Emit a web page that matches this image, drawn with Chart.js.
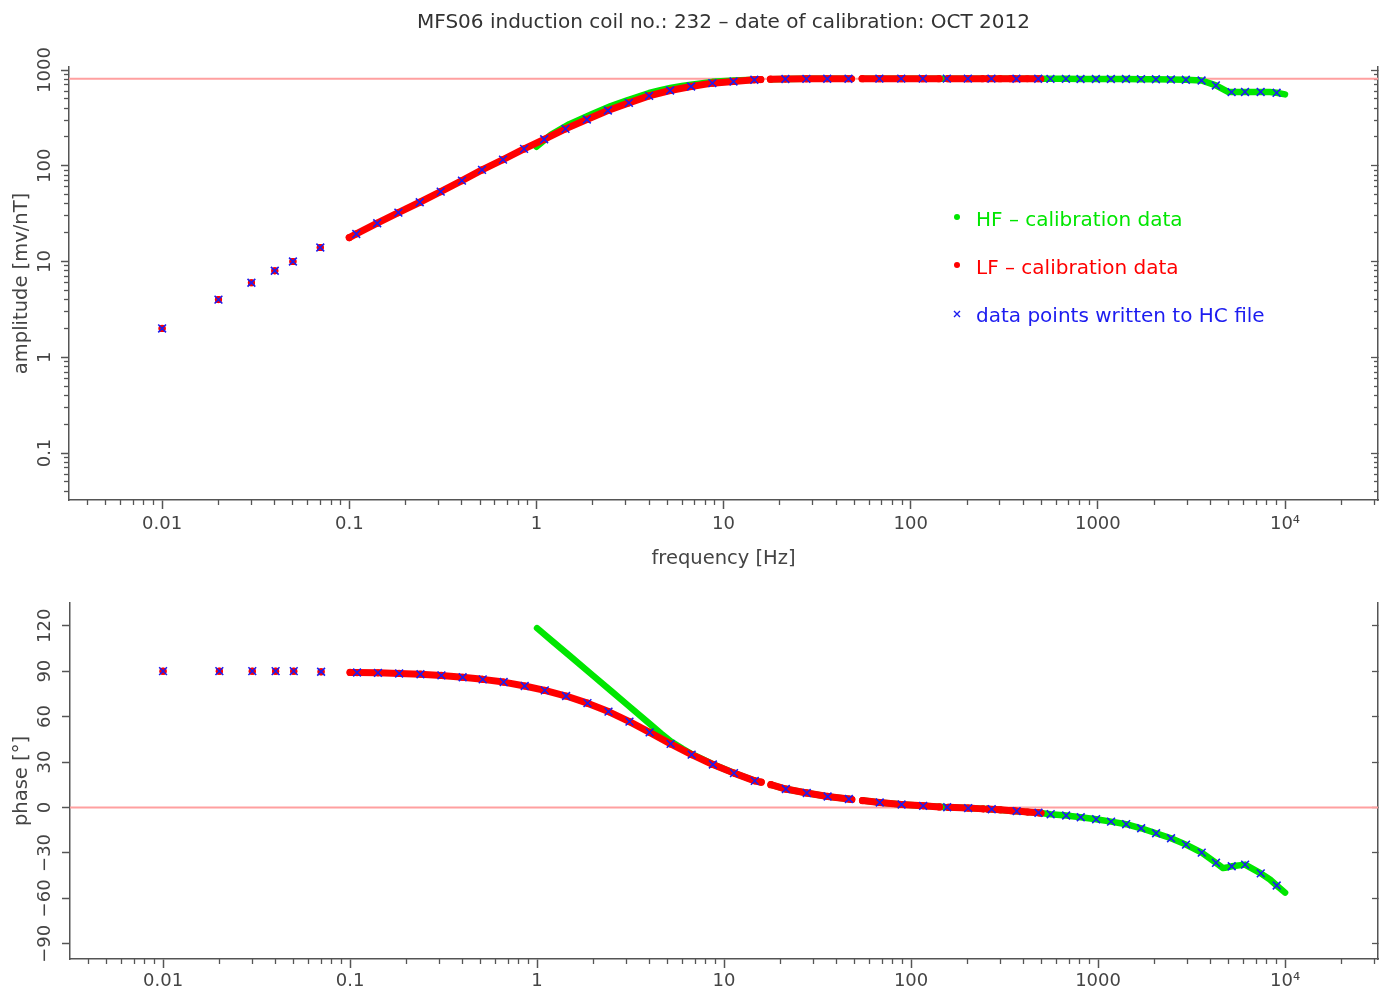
<!DOCTYPE html>
<html>
<head>
<meta charset="utf-8">
<title>MFS06 coil 232 calibration</title>
<script src="https://cdn.jsdelivr.net/npm/chart.js@4.4.1/dist/chart.umd.min.js"></script>
<style>
  body { margin: 0; background: #fff; }
  .panel { position: absolute; left: 0; width: 1380px; }
  #ampPanel { top: 0; height: 578px; }
  #phasePanel { top: 578px; height: 414px; }
</style>
</head>
<body>
<div class="panel" id="ampPanel"><canvas id="ampChart"></canvas></div>
<div class="panel" id="phasePanel"><canvas id="phaseChart"></canvas></div>
<script>
const titleText = 'MFS06 induction coil no.: 232 \u2013 date of calibration: OCT 2012'

// LF calibration data (red), null = gap in the measurement
const lfFreq = [0.01, 0.015, 0.02, 0.025, 0.03, 0.035, 0.04, 0.045, 0.05, 0.06, 0.07, 0.085,
  0.1, 0.109, 0.141, 0.183, 0.238, 0.308, 0.4, 0.512, 0.663, 0.859, 1.1, 1.43, 1.86, 2.41, 3.12, 4.0, 5.18, 6.71, 8.71, 11.3, 14.6, 15.8,
  16.8, 17.8, 21.4, 27.7, 35.8, 46.5, 48.2,
  51.5, 55, 68, 89, 116, 142, 150, 158, 202, 243, 250, 257, 300, 343, 350, 357, 420, 480, 495]
const lfAmp = [2, null, 4, null, 6, null, 8, null, 10, null, 14, null,
  17.8, 19.4, 25.1, 32.4, 41.6, 53.7, 70, 90.5, 116, 150, 189, 243, 304, 378, 454, 537, 611, 673, 729, 759, 790, 795,
  null, 802, 805, 808, 810, 810, 810,
  null, 811, 812, 812, 812, 812, null, 812, 812, 812, null, 812, 811, 811, null, 811, 810, 810, 810]
const lfPhase = [90, null, 90, null, 90, null, 90, null, 90, null, 89.6, null,
  89.2, 89.1, 88.9, 88.5, 88.0, 87.2, 86.0, 84.6, 82.8, 80.2, 77.3, 73.6, 68.9, 63.3, 56.7, 49.6, 42.0, 34.9, 28.4, 22.7, 17.6, 16.7,
  null, 15.1, 12.2, 9.6, 7.3, 5.6, 5.3,
  null, 4.6, 3.3, 2.0, 1.1, 0.4, null, 0.1, -0.4, -0.9, null, -1.0, -1.5, -2.1, null, -2.2, -3.0, -3.5, -3.7]

// HF calibration data (green)
const hfFreq = [1.0, 1.2, 1.5, 2.0, 2.5, 3.0, 4.0, 4.6, 5.2, 6.0, 6.7, 8.71, 11.3, 14.6, 15.8,
  16.8, 17.8, 21.4, 27.7, 35.8, 46.5, 48.2,
  51.5, 55, 68, 89, 116, 156, 202, 270, 367, 480,
  558, 675, 808, 976, 1174, 1413, 1700, 2043, 2456, 2953,
  3583, 4272, 4660, 4960, 5185, 6113, 7413, 8300, 9020, 10000]
const hfAmp = [158, 212, 272, 350, 420, 476, 575, 615, 648, 680, 703, 752, 775, 793, 797,
  null, 802, 805, 808, 810, 810, 810,
  null, 811, 812, 812, 812, 812, 812, 812, 810, 810,
  808, 808, 806, 806, 805, 805, 803, 800, 795, 790,
  777, 690, 630, 592, 588, 590, 590, 588, 578, 556]
const hfPhase = [118.4, 110.1, 100.0, 86.9, 76.7, 68.4, 55.3, 48.9, 43.6, 38.8, 35.3, 28.6, 22.8, 17.7, 16.8,
  null, 15.1, 12.2, 9.6, 7.3, 5.6, 5.3,
  null, 4.6, 3.3, 2.0, 1.1, 0.2, -0.4, -1.1, -2.4, -3.5,
  -4.4, -5.3, -6.4, -7.7, -9.3, -11.0, -13.7, -17.0, -20.3, -24.5,
  -29.8, -36.5, -40.0, -39.4, -38.8, -37.7, -43.5, -47.5, -51.5, -56.2]

// points written to the HC file (blue x)
const hcFreq = [0.01, 0.02, 0.03, 0.04, 0.05, 0.07,
  0.109, 0.141, 0.183, 0.238, 0.308, 0.4, 0.512, 0.663, 0.859, 1.1, 1.43, 1.86, 2.41, 3.12, 4.0, 5.18, 6.71, 8.71, 11.3, 14.6,
  21.4, 27.7, 35.8, 46.5,
  68, 89, 116, 156, 202, 270, 367, 480,
  558, 675, 808, 976, 1174, 1413, 1700, 2043, 2456, 2953,
  3583, 4272, 5185, 6113, 7413, 9020]
const hcAmp = [2, 4, 6, 8, 10, 14,
  19.4, 25.1, 32.4, 41.6, 53.7, 70, 90.5, 116, 150, 189, 243, 304, 378, 454, 537, 611, 673, 729, 759, 790,
  805, 808, 810, 810,
  812, 812, 812, 812, 812, 812, 810, 810,
  808, 808, 806, 806, 805, 805, 803, 800, 795, 790,
  777, 690, 588, 590, 590, 578]
const hcPhase = [90, 90, 90, 90, 90, 89.6,
  89.1, 88.9, 88.5, 88.0, 87.2, 86.0, 84.6, 82.8, 80.2, 77.3, 73.6, 68.9, 63.3, 56.7, 49.6, 42.0, 34.9, 28.4, 22.7, 17.6,
  12.2, 9.6, 7.3, 5.6,
  3.3, 2.0, 1.1, 0.2, -0.4, -1.1, -2.4, -3.5,
  -4.4, -5.3, -6.4, -7.7, -9.3, -11.0, -13.7, -17.0, -20.3, -24.5,
  -29.8, -36.5, -38.8, -37.7, -43.5, -51.5]

// reference lines
const ampReference = 810
const phaseReference = 0

// axes
const freqMin = 0.00318
const freqMax = 31400
const ampMin = 0.0323
const ampMax = 1075
const phaseMin = -100
const phaseMax = 135
const freqTicks = [0.01, 0.1, 1, 10, 100, 1000, 10000]
const freqTickLabels = ['0.01', '0.1', '1', '10', '100', '1000', '10\u2074']
const ampTicks = [0.1, 1, 10, 100, 1000]
const ampTickLabels = ['0.1', '1', '10', '100', '1000']
const phaseTicks = [-90, -60, -30, 0, 30, 60, 90, 120]
const phaseTickLabels = ['\u221290', '\u221260', '\u221230', '0', '30', '60', '90', '120']

const green = '#00e600'
const red = '#ff0000'
const blue = '#1c1cf0'
const refColor = '#ffa0a0'
const axisColor = '#555'
const textColor = '#444'
const fontFamily = "'DejaVu Sans', sans-serif"

function pts (xs, ys) {
  return xs.map(function (x, i) { return {x: x, y: ys[i]} })
}

function logMinorTicks (min, max) {
  let ticks = []
  for (let e = Math.floor(Math.log10(min)); e <= Math.ceil(Math.log10(max)); e++) {
    for (let m = 2; m <= 9; m++) {
      let v = m * Math.pow(10, e)
      if (v >= min && v <= max) ticks.push({value: v})
    }
  }
  return ticks
}

function fixedTicks (values) {
  return function (scale) {
    scale.ticks = values.map(function (v) { return {value: v} })
  }
}

// fix the box size of an axis and drop the label overhang padding
function fixedSize (prop, size) {
  return function (scale) {
    scale[prop] = size
    scale.paddingLeft = 0
    scale.paddingRight = 0
    scale.paddingTop = 0
    scale.paddingBottom = 0
  }
}

// an axis that only draws tick marks (minor ticks or the right-hand frame)
function tickOnlyAxis (type, position, weight, min, max, ticksFn, tickLength, size, border) {
  return {
    type: type,
    position: position,
    weight: weight,
    min: min,
    max: max,
    afterBuildTicks: ticksFn,
    afterFit: fixedSize(position === 'bottom' ? 'height' : 'width', size),
    ticks: {display: false},
    grid: {drawOnChartArea: false, tickLength: tickLength, tickWidth: 1.3, color: axisColor},
    border: {display: border, color: axisColor, width: 1.5}
  }
}

function dataSets (lfY, hfY, hcY, refY) {
  return [
    {
      label: 'data points written to HC file',
      data: pts(hcFreq, hcY),
      showLine: false,
      pointStyle: 'crossRot',
      pointRadius: 5.5,
      pointBorderWidth: 1.6,
      pointBorderColor: blue,
      pointBackgroundColor: blue,
      order: 1
    },
    {
      label: 'LF \u2013 calibration data',
      data: pts(lfFreq, lfY),
      borderColor: red,
      backgroundColor: red,
      borderWidth: 7,
      borderCapStyle: 'round',
      borderJoinStyle: 'round',
      pointRadius: 3.6,
      pointBorderWidth: 0,
      pointBackgroundColor: red,
      spanGaps: false,
      order: 2
    },
    {
      label: 'HF \u2013 calibration data',
      data: pts(hfFreq, hfY),
      borderColor: green,
      backgroundColor: green,
      borderWidth: 6.5,
      borderCapStyle: 'round',
      borderJoinStyle: 'round',
      pointRadius: 0,
      spanGaps: false,
      order: 3
    },
    {
      label: 'reference',
      data: pts([freqMin, freqMax], [refY, refY]),
      borderColor: refColor,
      borderWidth: 2,
      pointRadius: 0,
      order: 4
    }
  ]
}

// legend drawn inside the amplitude panel, entries: HF, LF, HC
const legendPlugin = {
  id: 'coilLegend',
  afterDraw: function (chart) {
    let ctx = chart.ctx
    let sets = chart.data.datasets
    let items = [
      {label: sets[2].label, color: green, style: 'dot'},
      {label: sets[1].label, color: red, style: 'dot'},
      {label: sets[0].label, color: blue, style: 'cross'}
    ]
    ctx.save()
    ctx.font = '20px ' + fontFamily
    ctx.textBaseline = 'middle'
    ctx.textAlign = 'left'
    items.forEach(function (item, i) {
      let y = 220 + i * 48
      ctx.fillStyle = item.color
      ctx.strokeStyle = item.color
      if (item.style === 'dot') {
        ctx.beginPath()
        ctx.arc(957, y - 3, 3, 0, Math.PI * 2)
        ctx.fill()
      } else {
        ctx.lineWidth = 1.4
        ctx.beginPath()
        ctx.moveTo(954, y - 5)
        ctx.lineTo(960, y + 1)
        ctx.moveTo(960, y - 5)
        ctx.lineTo(954, y + 1)
        ctx.stroke()
      }
      ctx.fillText(item.label, 976, y + 1)
    })
    ctx.restore()
  }
}

Chart.defaults.font.family = fontFamily
Chart.defaults.color = textColor

let commonOptions = {
  responsive: true,
  maintainAspectRatio: false,
  animation: false,
  devicePixelRatio: 1,
  events: []
}

let ampChart = new Chart(document.getElementById('ampChart'), {
  type: 'line',
  data: {datasets: dataSets(lfAmp, hfAmp, hcAmp, ampReference)},
  plugins: [legendPlugin],
  options: Object.assign({}, commonOptions, {
    layout: {padding: 0, autoPadding: false},
    plugins: {
      legend: {display: false},
      tooltip: {enabled: false},
      title: {
        display: true,
        text: titleText,
        fullSize: false,
        color: '#333',
        font: {size: 20, weight: 'normal'},
        padding: {top: 11, bottom: 32}
      }
    },
    scales: {
      x: {
        type: 'logarithmic',
        position: 'bottom',
        weight: 1,
        min: freqMin,
        max: freqMax,
        afterBuildTicks: fixedTicks(freqTicks),
        afterFit: fixedSize('height', 78),
        ticks: {
          autoSkip: false,
          maxRotation: 0,
          padding: 5,
          font: {size: 18},
          color: textColor,
          callback: function (v, i) { return freqTickLabels[i] }
        },
        grid: {drawOnChartArea: false, tickLength: 9, tickWidth: 1.5, color: axisColor},
        border: {color: axisColor, width: 1.5},
        title: {display: true, text: 'frequency [Hz]', color: textColor, font: {size: 19.5}, padding: {top: 0, bottom: 7}}
      },
      xMinor: tickOnlyAxis('logarithmic', 'bottom', 0, freqMin, freqMax,
        function (s) { s.ticks = logMinorTicks(freqMin, freqMax) }, 5, 0, false),
      y: {
        type: 'logarithmic',
        position: 'left',
        weight: 1,
        min: ampMin,
        max: ampMax,
        afterBuildTicks: fixedTicks(ampTicks),
        afterFit: fixedSize('width', 69),
        ticks: {
          autoSkip: false,
          minRotation: 90,
          maxRotation: 90,
          crossAlign: 'center',
          padding: -7,
          font: {size: 18},
          color: textColor,
          callback: function (v, i) { return ampTickLabels[i] }
        },
        grid: {drawOnChartArea: false, tickLength: 8, tickWidth: 1.5, color: axisColor},
        border: {color: axisColor, width: 1.5},
        title: {display: true, text: 'amplitude [mv/nT]', color: textColor, font: {size: 19.5}, padding: {top: 10, bottom: 0}}
      },
      yMinor: tickOnlyAxis('logarithmic', 'left', 0, ampMin, ampMax,
        function (s) { s.ticks = logMinorTicks(ampMin, ampMax) }, 5, 0, false),
      yRight: tickOnlyAxis('logarithmic', 'right', 1, ampMin, ampMax, fixedTicks(ampTicks), -7, 2, true),
      yRightMinor: tickOnlyAxis('logarithmic', 'right', 0, ampMin, ampMax,
        function (s) { s.ticks = logMinorTicks(ampMin, ampMax) }, -4, 0, false)
    }
  })
})

let phaseChart = new Chart(document.getElementById('phaseChart'), {
  type: 'line',
  data: {datasets: dataSets(lfPhase, hfPhase, hcPhase, phaseReference)},
  options: Object.assign({}, commonOptions, {
    layout: {padding: {top: 25, left: 0, right: 0, bottom: 0}, autoPadding: false},
    plugins: {
      legend: {display: false},
      tooltip: {enabled: false},
      title: {display: false}
    },
    scales: {
      x: {
        type: 'logarithmic',
        position: 'bottom',
        weight: 1,
        min: freqMin,
        max: freqMax,
        afterBuildTicks: fixedTicks(freqTicks),
        afterFit: fixedSize('height', 33),
        ticks: {
          autoSkip: false,
          maxRotation: 0,
          padding: 3,
          font: {size: 18},
          color: textColor,
          callback: function (v, i) { return freqTickLabels[i] }
        },
        grid: {drawOnChartArea: false, tickLength: 9, tickWidth: 1.5, color: axisColor},
        border: {color: axisColor, width: 1.5}
      },
      xMinor: tickOnlyAxis('logarithmic', 'bottom', 0, freqMin, freqMax,
        function (s) { s.ticks = logMinorTicks(freqMin, freqMax) }, 5, 0, false),
      y: {
        type: 'linear',
        position: 'left',
        weight: 1,
        min: phaseMin,
        max: phaseMax,
        afterBuildTicks: fixedTicks(phaseTicks),
        afterFit: fixedSize('width', 70),
        ticks: {
          autoSkip: false,
          minRotation: 90,
          maxRotation: 90,
          crossAlign: 'center',
          padding: -2,
          font: {size: 18},
          color: textColor,
          callback: function (v, i) { return phaseTickLabels[i] }
        },
        grid: {drawOnChartArea: false, tickLength: 8, tickWidth: 1.5, color: axisColor},
        border: {color: axisColor, width: 1.5},
        title: {display: true, text: 'phase [\u00b0]', color: textColor, font: {size: 19.5}, padding: {top: 10, bottom: 0}}
      },
      yRight: tickOnlyAxis('linear', 'right', 1, phaseMin, phaseMax, fixedTicks(phaseTicks), -6, 2, true)
    }
  })
})
</script>
</body>
</html>
